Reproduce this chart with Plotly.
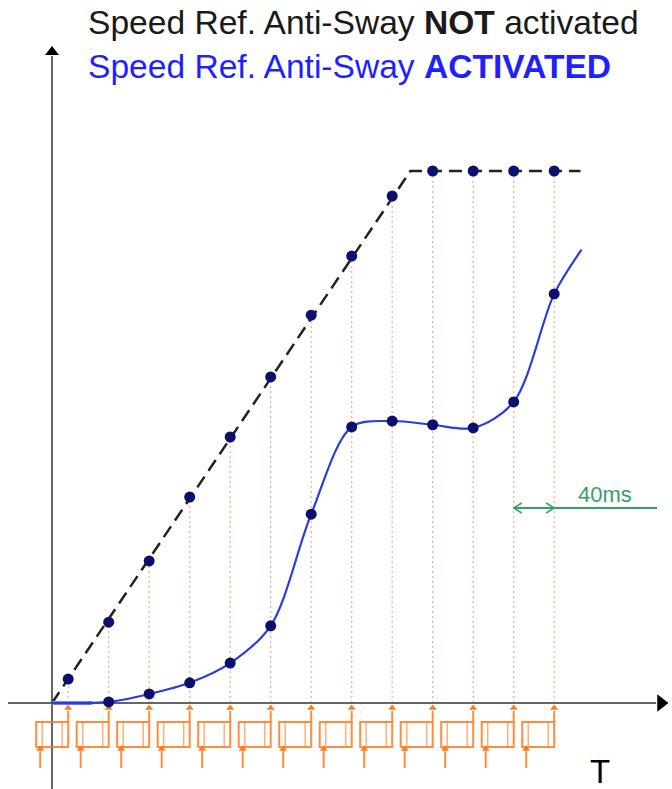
import plotly.graph_objects as go

# ---- data -------------------------------------------------------------
# sampling instants (ms), one every 40 ms
sample_ms = [16, 56, 96, 136, 176, 216, 256, 296, 336, 376, 416, 456, 496]
# speed reference without anti-sway (% of final speed) at each sample
ref_off = [4.5, 15.2, 26.7, 38.7, 50.0, 61.3, 72.9, 84.0, 95.3, 100, 100, 100, 100]
# speed reference with anti-sway (% of final speed), samples 2..13
ref_on = [0.2, 1.7, 3.8, 7.5, 14.5, 35.5, 51.9, 53.0, 52.3, 51.7, 56.6, 76.9]
# ramp envelope of the plain reference
ramp_ms = [0, 354, 522]
ramp_pct = [0, 100, 100]
# continuous anti-sway curve: start and end points
on_start = (0, 0.0)
on_end = (523, 85.2)

# ---- geometry: ms / % -> pixels --------------------------------------
W, H = 672, 789
X0_PX, PX_PER_MS = 52, 1.0125
Y0_PX, PX_PER_PCT = 703, 5.32


def tx(px):
    return (px - X0_PX) / PX_PER_MS


def ty(py):
    return (Y0_PX - py) / PX_PER_PCT


def dx(px):
    return px / PX_PER_MS


ORANGE = "#ff7a1c"
NAVY = "#0b0f6e"
BLUE = "#2a3be0"
GREEN = "#35a064"

fig = go.Figure()

# dotted sampling lines from the axis up to the plain reference
vx, vy = [], []
for t, v in zip(sample_ms, ref_off):
    vx += [t, t, None]
    vy += [0, v, None]
fig.add_trace(go.Scatter(x=vx, y=vy, mode="lines",
                         line=dict(color="#f7b283", width=1.3, dash="2px,3px"),
                         hoverinfo="skip"))

# axes
fig.add_trace(go.Scatter(x=[tx(8), tx(656)], y=[0, 0], mode="lines",
                         line=dict(color="#666666", width=2), hoverinfo="skip"))
fig.add_trace(go.Scatter(x=[0, 0], y=[ty(789), ty(56)], mode="lines",
                         line=dict(color="#666666", width=2), hoverinfo="skip"))
fig.add_trace(go.Scatter(x=[tx(661)], y=[0], mode="markers",
                         marker=dict(symbol="triangle-right", size=15, color="black"),
                         hoverinfo="skip"))
fig.add_trace(go.Scatter(x=[0], y=[ty(52)], mode="markers",
                         marker=dict(symbol="triangle-up", size=12, color="black"),
                         hoverinfo="skip"))

# sample-and-hold blocks under the time axis
box_top, box_bot = ty(722), ty(747)
for t in sample_ms:
    x0, x1 = t - dx(32), t
    fig.add_shape(type="rect", x0=x0, x1=x1, y0=box_bot, y1=box_top,
                  line=dict(color=ORANGE, width=2), opacity=0.85)
    for xi in (x0 + dx(6), x1 - dx(6)):
        fig.add_shape(type="line", x0=xi, x1=xi, y0=box_bot, y1=box_top,
                      line=dict(color=ORANGE, width=1.5), opacity=0.6)
    # output arrow up to the axis
    fig.add_shape(type="line", x0=x1, x1=x1, y0=box_top, y1=ty(711),
                  line=dict(color=ORANGE, width=2), opacity=0.85)
    # input arrow into the block
    fig.add_shape(type="line", x0=x0 + dx(4), x1=x0 + dx(4), y0=ty(768), y1=ty(751),
                  line=dict(color=ORANGE, width=2), opacity=0.85)

arr_x = [t for t in sample_ms] + [t - dx(28) for t in sample_ms]
arr_y = [ty(708)] * len(sample_ms) + [ty(749)] * len(sample_ms)
fig.add_trace(go.Scatter(x=arr_x, y=arr_y, mode="markers",
                         marker=dict(symbol="triangle-up", size=7, color=ORANGE),
                         hoverinfo="skip"))

# plain speed reference: dashed ramp with sample dots
fig.add_trace(go.Scatter(x=ramp_ms, y=ramp_pct, mode="lines",
                         line=dict(color="#222222", width=2.5, dash="13px,7px"),
                         hoverinfo="skip"))
fig.add_trace(go.Scatter(x=sample_ms, y=ref_off, mode="markers",
                         marker=dict(size=11, color=NAVY), hoverinfo="skip"))

# anti-sway speed reference
on_ms = sample_ms[1:]
curve_x = [on_start[0]] + on_ms + [on_end[0]]
curve_y = [on_start[1]] + ref_on + [on_end[1]]
fig.add_trace(go.Scatter(x=[0, 40], y=[0, 0], mode="lines",
                         line=dict(color="#7f86f0", width=4), hoverinfo="skip"))
fig.add_trace(go.Scatter(x=curve_x, y=curve_y, mode="lines",
                         line=dict(color=BLUE, width=2.2, shape="spline", smoothing=0.9),
                         hoverinfo="skip"))
fig.add_trace(go.Scatter(x=on_ms, y=ref_on, mode="markers",
                         marker=dict(size=11, color=NAVY), hoverinfo="skip"))

# 40 ms period marker
fig.add_trace(go.Scatter(x=[sample_ms[11], tx(657)], y=[ty(508), ty(508)], mode="lines",
                         line=dict(color=GREEN, width=2), hoverinfo="skip"))
for xa, xb in ((sample_ms[11] + dx(8), sample_ms[11]), (sample_ms[12] - dx(8), sample_ms[12])):
    fig.add_trace(go.Scatter(x=[xa, xb, xa], y=[ty(503), ty(508), ty(513)], mode="lines",
                             line=dict(color=GREEN, width=1.5), hoverinfo="skip"))


def px_ann(text, x, y, size, color, xanchor="left"):
    fig.add_annotation(text=text, xref="paper", yref="paper",
                       x=x / W, y=1 - y / H, xanchor=xanchor, yanchor="middle",
                       showarrow=False,
                       font=dict(family="Liberation Sans, Arial", size=size, color=color))


px_ann("Speed Ref. Anti-Sway <b>NOT</b> activated", 86, 23, 33.6, "#1a1a1a")
px_ann("Speed Ref. Anti-Sway <b>ACTIVATED</b>", 86, 66, 33.6, "#1f1fff")
px_ann("40ms", 576, 494, 22, GREEN)
px_ann("T", 588, 771, 33, "black")

fig.update_layout(
    width=W, height=H, margin=dict(l=0, r=0, t=0, b=0, pad=0),
    paper_bgcolor="white", plot_bgcolor="white", showlegend=False,
    xaxis=dict(range=[tx(0), tx(W)], visible=False, fixedrange=True),
    yaxis=dict(range=[ty(H), ty(0)], visible=False, fixedrange=True),
)

fig.write_html("out.html")
